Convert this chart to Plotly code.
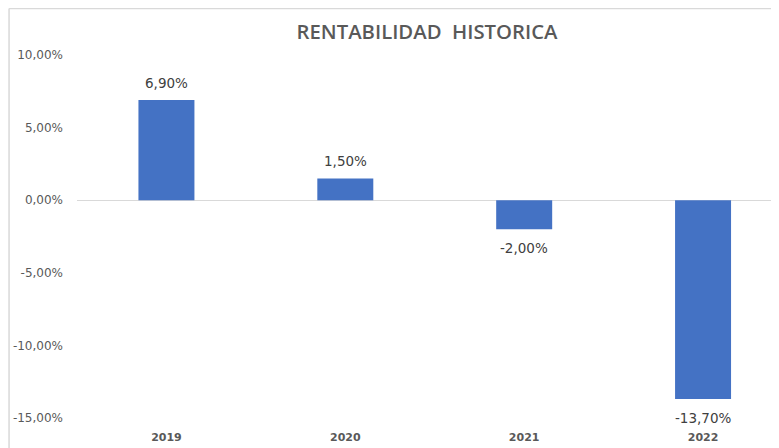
import plotly.graph_objects as go

years = ["2019", "2020", "2021", "2022"]
rentabilidad = [0.069, 0.015, -0.020, -0.137]
y_ticks = [0.10, 0.05, 0.0, -0.05, -0.10, -0.15]


def fmt_pct(v):
    return f"{v * 100:.2f}%".replace(".", ",")


# The page body adds an 8px offset; the figure fills the rest of the window.
W, H = 771, 440
ml, mr, mt, mb = 68.5, 0, 47, 30
pw = W - ml - mr
ph = H - mt - mb
cat_px = 179.0


def px_x(px):
    return (px - ml) / pw


def px_y(py):
    return 1 - (py - mt) / ph


fig = go.Figure()
fig.add_trace(go.Bar(
    x=years, y=rentabilidad,
    marker=dict(color="#4472C4", line=dict(width=0)),
    width=0.313,
    hoverinfo="skip",
))

annotations = []
for i, v in enumerate(rentabilidad):
    annotations.append(dict(
        x=i, y=v, xref="x", yref="y", text=fmt_pct(v), showarrow=False,
        yshift=17 if v >= 0 else -19, yanchor="middle",
        font=dict(family="DejaVu Sans", size=13.5, color="#404040"),
    ))

fig.update_layout(
    width=W, height=H,
    margin=dict(l=ml, r=mr, t=mt, b=mb, autoexpand=False),
    plot_bgcolor="white", paper_bgcolor="white",
    showlegend=False,
    title=dict(text="RENTABILIDAD  HISTORICA", x=419 / W, xanchor="center",
               y=1 - 24 / H, yanchor="middle",
               font=dict(family="Open Sans", size=20.3, weight=600, color="#595959")),
    xaxis=dict(type="category", range=[-0.5, -0.5 + pw / cat_px], showgrid=False,
               showline=False, zeroline=False, ticks="", ticklabelstandoff=11,
               tickfont=dict(family="DejaVu Sans", size=11, weight="bold", color="#595959")),
    yaxis=dict(range=[-0.15, 0.10], tickvals=y_ticks, ticktext=[fmt_pct(t) for t in y_ticks],
               showgrid=False, zeroline=True, zerolinecolor="#d9d9d9", zerolinewidth=1,
               showline=False, ticks="", ticklabelstandoff=13,
               tickfont=dict(family="DejaVu Sans", size=12, color="#595959")),
    annotations=annotations,
    shapes=[
        dict(type="line", xref="paper", yref="paper", x0=px_x(0.5), x1=px_x(0.5),
             y0=px_y(0.5), y1=px_y(H), line=dict(color="#d9d9d9", width=1.5)),
        dict(type="line", xref="paper", yref="paper", x0=px_x(0.5), x1=px_x(W),
             y0=px_y(0.5), y1=px_y(0.5), line=dict(color="#d9d9d9", width=1.5)),
    ],
)

fig.write_html("out.html")
